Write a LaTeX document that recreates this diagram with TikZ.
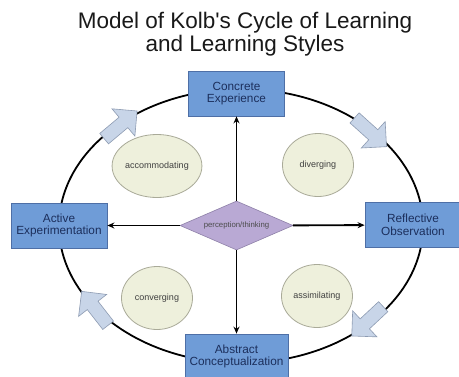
\documentclass[tikz,border=0pt]{standalone}
\usepackage{fontspec}
\setmainfont{Liberation Sans}
\usetikzlibrary{shapes.geometric,shapes.arrows,arrows.meta}
\definecolor{stagefill}{HTML}{6F9CD7}
\definecolor{stageline}{HTML}{4E6FA6}
\definecolor{stagetext}{HTML}{1C2F5C}
\definecolor{stylefill}{HTML}{EEF0DC}
\definecolor{styleline}{HTML}{A9AA98}
\definecolor{hubfill}{HTML}{B9A9D4}
\definecolor{hubline}{HTML}{8E80A8}
\definecolor{turnfill}{HTML}{C8D5E8}
\definecolor{turnline}{HTML}{8D9BB2}
\newcommand{\myStage}[3]{
\node[stagebox] (#1) at (#2) {#3};
}
\newcommand{\myTurn}[3]{
\node[turnarrow, rotate=#3] (#1) at (#2) {};
}

\begin{document}
\begin{tikzpicture}[x=1pt, y=-1pt,
  stagebox/.style={draw=stageline, fill=stagefill, line width=0.8pt, text=stagetext,
    minimum width=96pt, minimum height=45pt, align=center,
    font=\fontsize{11.8}{12.5}\selectfont},
  learnstyle/.style={ellipse, draw=styleline, fill=stylefill, line width=0.8pt,
    minimum width=71pt, minimum height=63pt, inner sep=0pt, text=black!75,
    font=\fontsize{9}{10}\selectfont},
  turnarrow/.style={single arrow, draw=turnline, fill=turnfill, line width=0.6pt,
    minimum height=43pt, inner xsep=0pt, inner ysep=6.5pt,
    single arrow head extend=11pt, single arrow tip angle=90},
  axis/.style={line width=1.9pt, -{Stealth[length=7pt,width=6pt]}}]
  \clip (0,0) rectangle (459,376);
  \fill[white] (0,0) rectangle (459,376);

  %% title
  \node[align=center, text=black!90, font=\fontsize{22.5}{22.5}\selectfont] (title) at (245,34)
    {Model of Kolb\textquotesingle s Cycle of Learning\\and Learning Styles};

  %% cycle
  \draw[line width=1.8pt] (241,226) ellipse [x radius=182, y radius=137];
  \myTurn{tl}{118,127}{40}
  \myTurn{tr}{368,130}{-42}
  \myTurn{br}{370,319}{-137}
  \myTurn{bl}{97,311}{128}

  %% learning styles
  \node[learnstyle] (acc) at (157,166) {accommodating};
  \node[learnstyle] (div) at (318,165) {diverging};
  \node[learnstyle] (con) at (157,298) {converging};
  \node[learnstyle] (ass) at (317,296) {assimilating};

  %% stages
  \myStage{ce}{236.5,93.5}{Concrete\\Experience}
  \myStage{ae}{59,225.5}{Active\\Experimentation}
  \myStage{ro}{413,225}{Reflective\\Observation}
  \node[stagebox, minimum width=103pt] (ac) at (236.5,356.5) {Abstract\\Conceptualization};

  %% perception / thinking
  \node[diamond, aspect=2.3, draw=hubline, fill=hubfill, line width=0.6pt, inner sep=0pt,
    minimum width=113pt, minimum height=49pt, text=black!70,
    font=\fontsize{7.8}{9}\selectfont] (hub) at (236.5,225.5) {perception/thinking};
  \draw[axis] (hub) -- (ce);
  \draw[axis] (hub) -- (ac);
  \draw[axis] (hub) -- (ae);
  \draw[axis] (hub) -- (ro);
\end{tikzpicture}
\end{document}
